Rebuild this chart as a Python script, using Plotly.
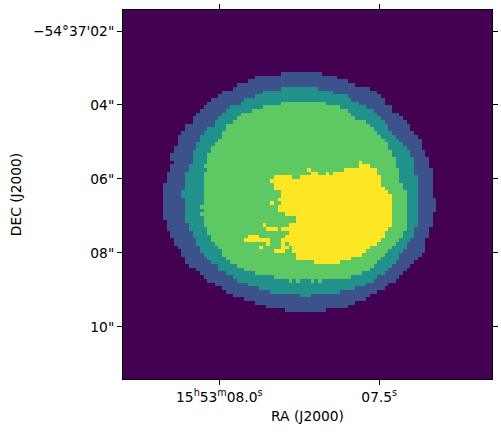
import plotly.graph_objects as go

GRID = 101
# Contour extents: first row, then left / right (exclusive) cell per row
BLUE_ROW0 = 17
BLUE_L = [43,36,34,31,30,27,26,24,23,22,21,20,19,19,17,17,16,15,15,15,14,14,13,13,14,13,13,12,12,12,11,11,
          11,11,11,11,11,11,11,11,12,12,12,13,13,14,14,15,16,16,17,17,18,20,21,22,23,25,27,28,30,33,36,39,44]
BLUE_R = [54,58,61,63,67,69,70,71,71,73,73,75,76,77,78,78,79,80,81,81,81,82,82,83,83,83,84,84,84,84,84,84,
          84,84,85,85,85,85,84,84,84,84,83,83,83,82,82,82,82,81,80,79,78,77,76,75,74,72,71,69,67,66,63,61,55]
TEAL_ROW0 = 21
TEAL_L = [43,38,36,33,32,29,28,27,26,25,25,23,22,21,21,20,20,19,19,19,19,18,18,17,17,17,17,17,
          16,16,17,17,17,17,17,17,17,18,18,19,19,20,20,21,21,22,23,24,26,26,28,30,31,34,37,40,48]
TEAL_R = [53,57,61,62,64,66,68,69,70,71,72,72,73,74,75,76,77,78,78,79,79,79,79,79,80,80,80,80,
          80,80,80,80,80,80,80,80,80,80,79,79,79,78,77,77,76,75,75,74,73,72,71,69,68,66,63,59,51]
GREEN_ROW0 = 25
GREEN_L = [43,38,35,32,31,30,28,28,27,27,26,25,24,24,23,23,23,22,23,22,22,22,22,22,
           22,22,22,22,21,22,21,22,22,22,23,23,24,24,25,26,27,27,28,29,31,33,36,41]
GREEN_R = [55,59,61,62,63,66,67,68,69,70,71,72,72,73,73,74,74,74,75,75,75,75,76,76,
           77,77,77,77,77,77,77,77,77,77,77,76,76,75,74,73,72,71,70,69,68,67,65,62]
GREEN_EXTRA = {73: [(45,46),(47,48),(51,52),(53,54)]}
YELLOW = {
    41: [(64,65)], 42: [(64,67)], 43: [(50,51),(60,69)], 44: [(51,53),(55,56),(57,69)],
    45: [(41,46),(48,70)], 46: [(40,70)], 47: [(41,70)], 48: [(41,71)], 49: [(43,72)],
    50: [(43,73)], 51: [(42,73)], 52: [(40,41),(43,73)], 53: [(42,73)], 54: [(42,73)],
    55: [(44,73)], 56: [(47,73)], 57: [(47,73)], 58: [(38,39),(45,73)], 59: [(39,42),(43,72)],
    60: [(45,71)], 61: [(34,37),(44,71)], 62: [(33,40),(43,70)], 63: [(39,40),(43,44),(45,69)],
    64: [(37,38),(43,45),(46,67)], 65: [(41,44),(46,66)], 66: [(47,65)], 67: [(47,62)], 68: [(52,59)],
}
COLORS = ["#440154", "#3b528b", "#21918c", "#5ec962", "#fde725"]
X_TICKS = [26.26, 69.6]
X_LABELS = ["15<sup>h</sup>53<sup>m</sup>08.0<sup>s</sup>", "07.5<sup>s</sup>"]
Y_TICKS = [5.89, 25.94, 45.99, 66.05, 86.1]
Y_LABELS = ["\u221254\u00b037'02\"", '04"', '06"', '08"', '10"']

z = [[0] * GRID for _ in range(GRID)]
def fill(level, row0, lefts, rights):
    for i, (a, b) in enumerate(zip(lefts, rights)):
        for c in range(a, b):
            z[row0 + i][c] = level
fill(1, BLUE_ROW0, BLUE_L, BLUE_R)
fill(2, TEAL_ROW0, TEAL_L, TEAL_R)
fill(3, GREEN_ROW0, GREEN_L, GREEN_R)
for level, table in ((3, GREEN_EXTRA), (4, YELLOW)):
    for r, spans in table.items():
        for a, b in spans:
            for c in range(a, b):
                z[r][c] = level

scale = []
for i, col in enumerate(COLORS):
    scale += [[i / 5, col], [(i + 1) / 5, col]]

fig = go.Figure(go.Heatmap(z=z, x0=0.5, dx=1, y0=0.5, dy=1, zmin=-0.5, zmax=4.5,
                           colorscale=scale, showscale=False, hoverinfo="skip"))
font = dict(family="DejaVu Sans", size=13.8, color="black")
common = dict(showgrid=False, zeroline=False, showline=True, linecolor="black", linewidth=1,
              mirror="allticks", ticks="outside", ticklen=5, tickwidth=1, tickcolor="black",
              tickfont=font)
fig.update_xaxes(range=[0.16, 100.16], tickmode="array", tickvals=X_TICKS, ticktext=X_LABELS,
                 title=dict(text="RA (J2000)", font=font, standoff=7), **common)
fig.update_yaxes(range=[100.198, 0.198], tickmode="array", tickvals=Y_TICKS, ticktext=Y_LABELS,
                 title=dict(text="DEC (J2000)", font=font, standoff=8), **common)
fig.update_layout(width=501, height=434, margin=dict(l=123, r=9, t=10, b=55, autoexpand=False),
                  paper_bgcolor="white", plot_bgcolor="white", font=font)
fig.write_html("out.html", config={"displayModeBar": False},
               post_script="document.body.style.margin='0';document.body.style.overflow='hidden';")
